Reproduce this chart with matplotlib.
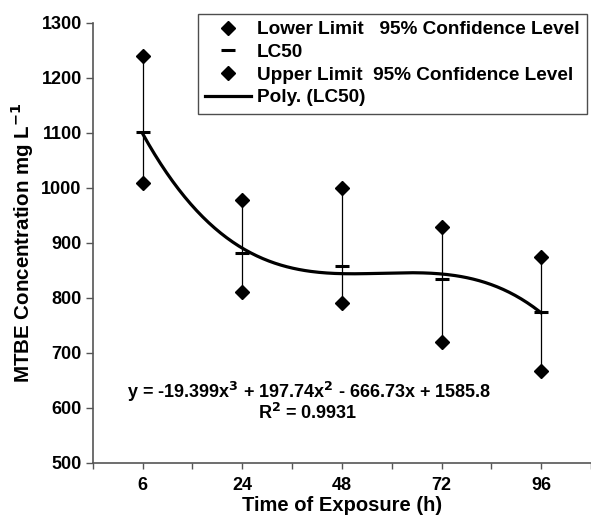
import numpy as np
import matplotlib
matplotlib.use("Agg")
import matplotlib.pyplot as plt

categories = ["6", "24", "48", "72", "96"]
lower = [1008, 810, 791, 720, 667]
lc50 = [1101, 881, 858, 834, 775]
upper = [1239, 977, 999, 928, 875]
eq_text = "y = -19.399x$^{3}$ + 197.74x$^{2}$ - 666.73x + 1585.8"
r2_text = "R$^{2}$ = 0.9931"

plt.rcParams['font.family'] = ['Liberation Sans', 'DejaVu Sans']
plt.rcParams['font.weight'] = 'bold'
plt.rcParams['mathtext.default'] = 'bf'

fig = plt.figure(figsize=(5.91, 5.20), dpi=100)
ax = fig.add_axes([0.157, 0.110, 0.843, 0.846])

x = np.arange(1, len(categories) + 1)
ax.vlines(x, lower, upper, color='black', lw=0.9, zorder=2)
ax.plot(x, lower, 'D', color='black', ms=7, ls='none', label='Lower Limit   95% Confidence Level', zorder=3)
ax.plot(x, lc50, '_', color='black', ms=10, mew=2.2, ls='none', label='LC50', zorder=3)
ax.plot(x, upper, 'D', color='black', ms=7, ls='none', label='Upper Limit  95% Confidence Level', zorder=3)

coef = np.polyfit(x, lc50, 3)
xs = np.linspace(1, 5, 200)
ax.plot(xs, np.polyval(coef, xs), color='black', lw=2.3, label='Poly. (LC50)', zorder=2)

ax.set_xlim(0.5, 5.5)
ax.set_ylim(500, 1300)
ax.set_yticks(np.arange(500, 1301, 100))
ax.set_xticks(x)
ax.set_xticklabels(categories)
ax.set_xticks(np.arange(0.5, 5.6, 1.0), minor=True)

for s in ['top', 'right']:
    ax.spines[s].set_visible(False)
for s in ['left', 'bottom']:
    ax.spines[s].set_color('#555555')
    ax.spines[s].set_linewidth(1.2)

ax.tick_params(axis='y', direction='out', length=5, width=1, color='#555555', labelsize=13, pad=3)
ax.tick_params(axis='x', which='major', direction='out', length=4, width=1, color='#555555', labelsize=13, pad=6)
ax.tick_params(axis='x', which='minor', direction='out', length=4, width=1, color='#555555')

ax.set_xlabel("Time of Exposure (h)", fontsize=14.5, fontweight='bold', labelpad=2)
ax.set_ylabel("MTBE Concentration mg L$^{-1}$", fontsize=14.8, fontweight='bold', labelpad=4)

ax.text(2.67, 628, eq_text, ha='center', va='center', fontsize=13, fontweight='bold')
ax.text(2.66, 590, r2_text, ha='center', va='center', fontsize=13, fontweight='bold')

leg = ax.legend(loc='upper right', bbox_to_anchor=(0.993, 0.974), bbox_transform=fig.transFigure,
                frameon=True, fancybox=False, edgecolor='#222222', fontsize=13.7,
                handlelength=2.4, borderpad=0.4, labelspacing=0.28, handletextpad=0.3,
                borderaxespad=0)
leg.get_frame().set_linewidth(1.0)

fig.savefig("out.png", dpi=100)
